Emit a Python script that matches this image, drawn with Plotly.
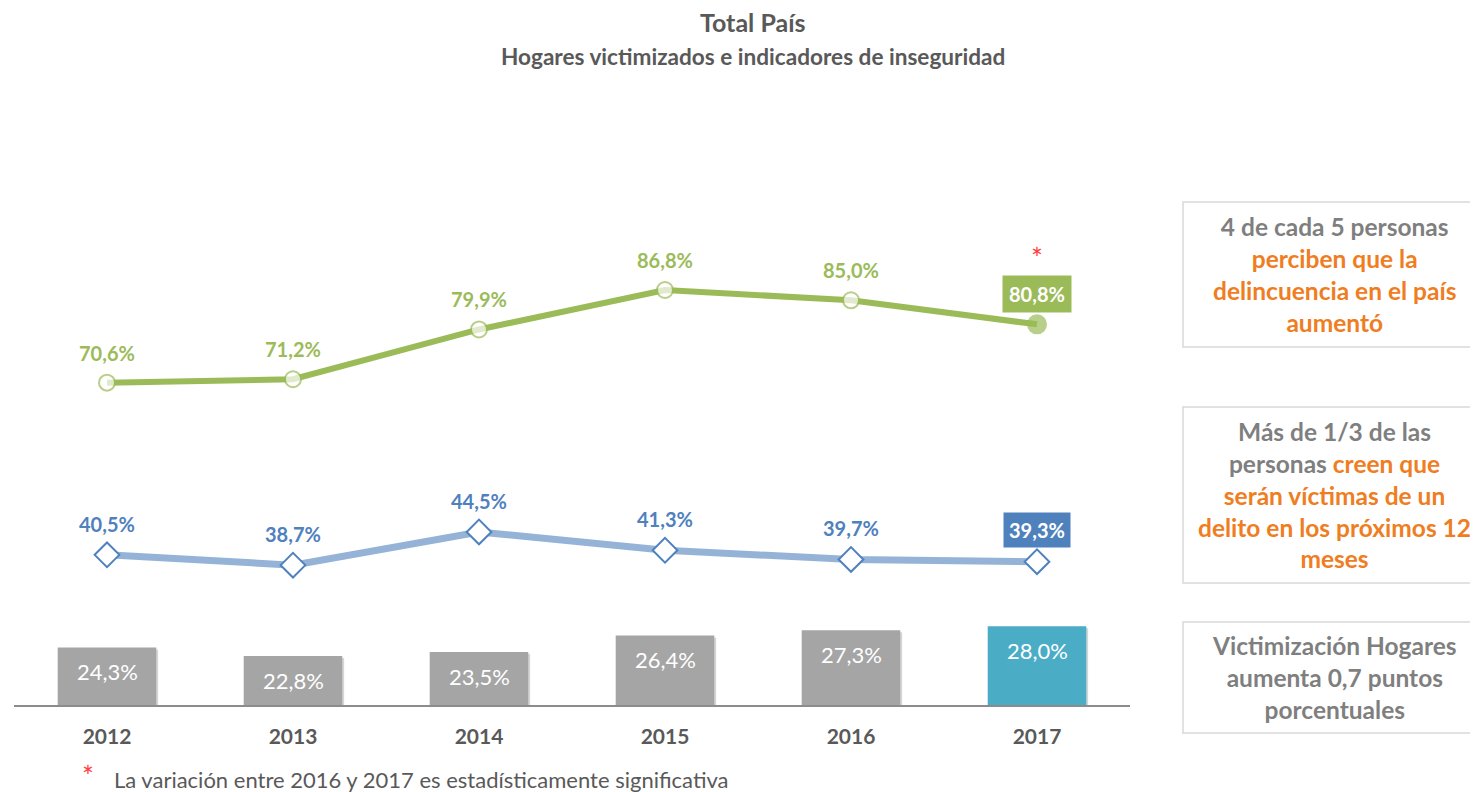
import plotly.graph_objects as go

years = ["2012", "2013", "2014", "2015", "2016", "2017"]
percepcion = [70.6, 71.2, 79.9, 86.8, 85.0, 80.8]      # perciben que la delincuencia aumentó
expectativa = [40.5, 38.7, 44.5, 41.3, 39.7, 39.3]     # creen que serán víctimas
victimizacion = [24.3, 22.8, 23.5, 26.4, 27.3, 28.0]   # hogares victimizados

OFF = 8                     # page body margin
W, H = 1478 - OFF, 792 - OFF
# plot area in screen pixels
SL, SR, ST, SB = 14, 1130, 215, 705
L, R, T, B = SL - OFF, SR - OFF, ST - OFF, SB - OFF
ZERO_Y, PX_PER = 786.5, 5.72
Y0 = (ZERO_Y - SB) / PX_PER
Y1 = (ZERO_Y - ST) / PX_PER


def px(x):
    return (x - SL) / (SR - SL)


def py(y):
    return (SB - y) / (SB - ST)


def fmt(v):
    return f"{v:.1f}".replace(".", ",") + "%"


GREEN = "#9bbb59"
BLUE_LINE = "#95b3d7"
BLUE = "#4f81bd"
GRAY_BAR = "#a5a5a5"
TEAL = "#4bacc6"
TXT = "#595959"
ORANGE = "#ef7d22"
FONT = "Lato"

fig = go.Figure()

bar_colors = [GRAY_BAR] * (len(years) - 1) + [TEAL]
shadow_y = [v - 0.35 for v in victimizacion]
fig.add_trace(go.Bar(x=years, y=shadow_y, base=0, width=0.53, offset=-0.255,
                     marker=dict(color="rgba(0,0,0,0.16)", line=dict(width=0)),
                     hoverinfo="skip", showlegend=False))
fig.add_trace(go.Bar(x=years, y=victimizacion, base=0, width=0.53, offset=-0.265,
                     marker=dict(color=bar_colors, line=dict(width=0)),
                     showlegend=False))

fig.add_trace(go.Scatter(x=years, y=expectativa, mode="lines+markers",
                         line=dict(color=BLUE_LINE, width=7),
                         marker=dict(symbol="diamond", size=19, color="white",
                                     line=dict(color=BLUE, width=2)),
                         showlegend=False))

g_fill = ["white"] * (len(years) - 1) + [GREEN]
g_size = [16] * (len(years) - 1) + [18]
fig.add_trace(go.Scatter(x=years, y=percepcion, mode="lines+markers",
                         line=dict(color=GREEN, width=6),
                         marker=dict(symbol="circle", size=g_size, color=g_fill,
                                     line=dict(color=GREEN, width=2)),
                         showlegend=False))

ann = []
n = len(years)
C = dict(xanchor="center", yanchor="middle", showarrow=False)
LBL = 20
for i, v in enumerate(percepcion):
    if i < n - 1:
        ann.append(dict(x=i, y=v, xref="x", yref="y", text=f"<b>{fmt(v)}</b>",
                        yshift=30, font=dict(family=FONT, size=LBL, color=GREEN), **C))
    else:
        ann.append(dict(x=i, y=v, xref="x", yref="y", text=f"<b>{fmt(v)}</b>",
                        yshift=30, bgcolor=GREEN, borderpad=6,
                        font=dict(family=FONT, size=LBL, color="white"), **C))
        ann.append(dict(x=i, y=v, xref="x", yref="y", text="*", yshift=66,
                        font=dict(family=FONT, size=28, color="#ff3b3b"), **C))
for i, v in enumerate(expectativa):
    if i < n - 1:
        ann.append(dict(x=i, y=v, xref="x", yref="y", text=f"<b>{fmt(v)}</b>",
                        yshift=31, font=dict(family=FONT, size=LBL, color=BLUE), **C))
    else:
        ann.append(dict(x=i, y=v, xref="x", yref="y", text=f"<b>{fmt(v)}</b>",
                        yshift=32, bgcolor=BLUE, borderpad=5,
                        font=dict(family=FONT, size=LBL, color="white"), **C))
for i, v in enumerate(victimizacion):
    ann.append(dict(x=i, y=v, xref="x", yref="y", text=fmt(v), yshift=-24,
                    font=dict(family=FONT, size=22, color="white"), **C))

# titles
ann.append(dict(x=px(753), y=py(22), xref="paper", yref="paper",
                text="<b>Total País</b>", font=dict(family=FONT, size=25, color=TXT), **C))
ann.append(dict(x=px(753), y=py(57), xref="paper", yref="paper",
                text="<b>Hogares victimizados e indicadores de inseguridad</b>",
                font=dict(family=FONT, size=22.6, color=TXT), **C))

# footnote
ann.append(dict(x=px(88), y=py(776), xref="paper", yref="paper", text="*",
                font=dict(family=FONT, size=28, color="#ff3b3b"), **C))
ann.append(dict(x=px(112), y=py(779), xref="paper", yref="paper", showarrow=False,
                xanchor="left", yanchor="middle",
                text="La variación entre 2016 y 2017 es estadísticamente significativa",
                font=dict(family=FONT, size=22, color=TXT)))

# side boxes
GR = "#7f7f7f"


def gray(s):
    return f"<span style='color:{GR}'>{s}</span>"


def org(s):
    return f"<span style='color:{ORANGE}'>{s}</span>"


box_texts = [
    (202, 347, "<b>" + gray("4 de cada 5 personas") + "<br>" + org("perciben que la") + "<br>"
     + org("delincuencia en el país") + "<br>" + org("aumentó") + "</b>"),
    (407, 583, "<b>" + gray("Más de 1/3 de las") + "<br>" + gray("personas ") + org("creen que") + "<br>"
     + org("serán víctimas de un") + "<br>" + org("delito en los próximos 12") + "<br>"
     + org("meses") + "</b>"),
    (622, 733, "<b>" + gray("Victimización Hogares") + "<br>" + gray("aumenta 0,7 puntos") + "<br>"
     + gray("porcentuales") + "</b>"),
]
shapes = []
for y0, y1, txt in box_texts:
    shapes.append(dict(type="rect", xref="paper", yref="paper",
                       x0=px(1183), x1=px(1495), y0=py(y1), y1=py(y0),
                       line=dict(color="#d9d9d9", width=1.5), fillcolor="white", layer="below"))
    ann.append(dict(x=px(1334), y=py((y0 + y1) / 2), xref="paper", yref="paper",
                    text=txt, align="center",
                    font=dict(family=FONT, size=24.5, color=GR), **C))

fig.update_layout(
    width=W, height=H,
    margin=dict(l=L, r=W - R, t=T, b=H - B, autoexpand=False),
    paper_bgcolor="white", plot_bgcolor="white",
    barmode="overlay",
    annotations=ann, shapes=shapes, showlegend=False,
    xaxis=dict(type="category", range=[-0.5, 5.5], showgrid=False, zeroline=False,
               showline=True, linecolor="#8c8c8c", linewidth=2, ticks="",
               ticklabelstandoff=12,
               tickfont=dict(family=FONT, size=21, color=TXT),
               tickprefix="<b>", ticksuffix="</b>"),
    yaxis=dict(range=[Y0, Y1], visible=False, showgrid=False, zeroline=False),
)

fig.write_html("out.html")
